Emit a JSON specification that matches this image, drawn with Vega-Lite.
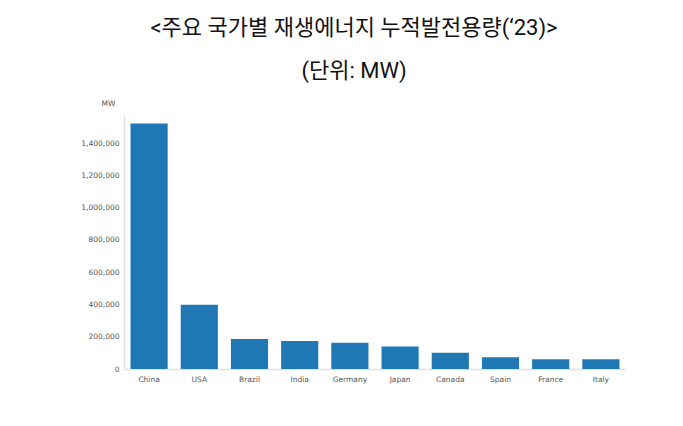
{
  "$schema": "https://vega.github.io/schema/vega-lite/v6.json",
  "width": 502,
  "height": 254,
  "autosize": {"type": "none"},
  "padding": {"left": 124, "top": 115, "right": 57, "bottom": 57},
  "background": "white",
  "title": {
    "text": ["<주요 국가별 재생에너지 누적발전용량(‘23)>", "(단위: MW)"],
    "font": "Roboto, Noto Sans CJK KR",
    "fontSize": 22,
    "fontWeight": "normal",
    "color": "#111111",
    "lineHeight": 43,
    "anchor": "middle",
    "frame": "group",
    "dx": -21,
    "offset": 16
  },
  "data": {
    "values": [
      {"country": "China", "mw": 1523000},
      {"country": "USA", "mw": 399000},
      {"country": "Brazil", "mw": 186000},
      {"country": "India", "mw": 174000},
      {"country": "Germany", "mw": 163000},
      {"country": "Japan", "mw": 140000},
      {"country": "Canada", "mw": 101000},
      {"country": "Spain", "mw": 73000},
      {"country": "France", "mw": 60000},
      {"country": "Italy", "mw": 60000}
    ]
  },
  "mark": {"type": "bar", "color": "#1f77b4"},
  "encoding": {
    "x": {
      "field": "country",
      "type": "nominal",
      "sort": null,
      "scale": {"paddingInner": 0.26, "paddingOuter": 0.13},
      "axis": {
        "title": null,
        "labelAngle": 0,
        "labelFont": "DejaVu Sans",
        "labelFontSize": 7.5,
        "labelColor": "#555555",
        "labelPadding": 6,
        "ticks": false,
        "domainColor": "#e0e0e0",
        "domainWidth": 1.5
      }
    },
    "y": {
      "field": "mw",
      "type": "quantitative",
      "scale": {"domain": [0, 1575000], "nice": false},
      "axis": {
        "title": "MW",
        "titleAngle": 0,
        "titleX": -16,
        "titleY": -8,
        "titleAlign": "center",
        "titleFont": "DejaVu Sans",
        "titleFontSize": 7.5,
        "titleFontWeight": "normal",
        "titleColor": "#555555",
        "values": [0, 200000, 400000, 600000, 800000, 1000000, 1200000, 1400000],
        "format": ",d",
        "labelFont": "DejaVu Sans",
        "labelFontSize": 7.5,
        "labelColor": "#555555",
        "labelPadding": 5,
        "ticks": false,
        "grid": false,
        "domainColor": "#e0e0e0",
        "domainWidth": 1.5
      }
    }
  },
  "config": {"view": {"stroke": null}}
}
